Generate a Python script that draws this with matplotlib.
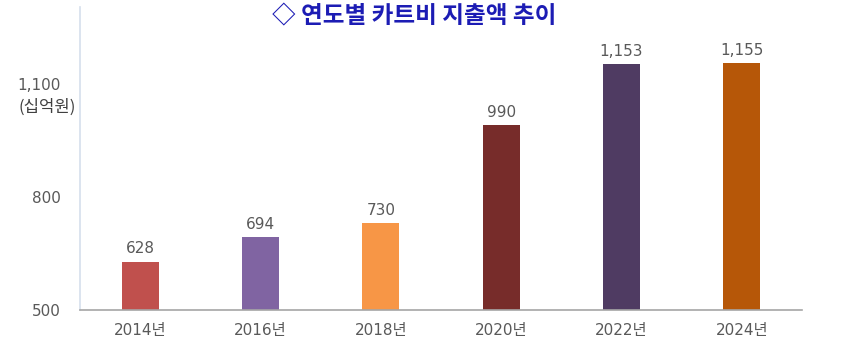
import matplotlib
matplotlib.use("Agg")
import matplotlib.pyplot as plt

plt.rcParams['font.family'] = ['DejaVu Sans', 'Noto Sans CJK KR']

years = ["2014년", "2016년", "2018년", "2020년", "2022년", "2024년"]
values = [628, 694, 730, 990, 1153, 1155]
colors = ["#C0504D", "#8064A2", "#F79646", "#772C2A", "#4F3B62", "#B65708"]
yticks = [500, 800, 1100]
title = "◇ 연도별 카트비 지출액 추이"
unit = "(십억원)"

fig = plt.figure(figsize=(8.57, 3.61), dpi=100)
ax = fig.add_axes([80/857, 51/361, 722/857, 303/361])

x = list(range(len(years)))
ax.bar(x, values, width=0.31, color=colors, bottom=0)
ax.set_xlim(-0.5, len(years) - 0.5)
ax.set_ylim(500, 1304)

for xi, v in zip(x, values):
    ax.text(xi, v + 14, f"{v:,}", ha="center", va="bottom", fontsize=11, color="#595959")

ax.set_xticks(x)
ax.set_xticklabels(years, fontsize=11, color="#595959")
ax.set_yticks(yticks)
ax.set_yticklabels([f"{t:,}" for t in yticks], fontsize=11, color="#595959")
ax.tick_params(axis="both", length=0)
ax.tick_params(axis="y", pad=14)
ax.tick_params(axis="x", pad=9)

for s in ["top", "right"]:
    ax.spines[s].set_visible(False)
ax.spines["left"].set_color("#D6DFEC")
ax.spines["left"].set_linewidth(1.2)
ax.spines["bottom"].set_color("#A6A6A6")
ax.spines["bottom"].set_linewidth(1.2)

fig.text(47/857, 1 - 107/361, unit, ha="center", va="center", fontsize=12,
         color="#404040", family=['Noto Sans CJK KR', 'DejaVu Sans'])
fig.text(414/857, 1 - 16/361, title, ha="center", va="center", fontsize=17,
         color="#1C1CB4", fontweight="bold", family=['Noto Sans CJK KR', 'DejaVu Sans'])

fig.savefig("out.png", dpi=100)
